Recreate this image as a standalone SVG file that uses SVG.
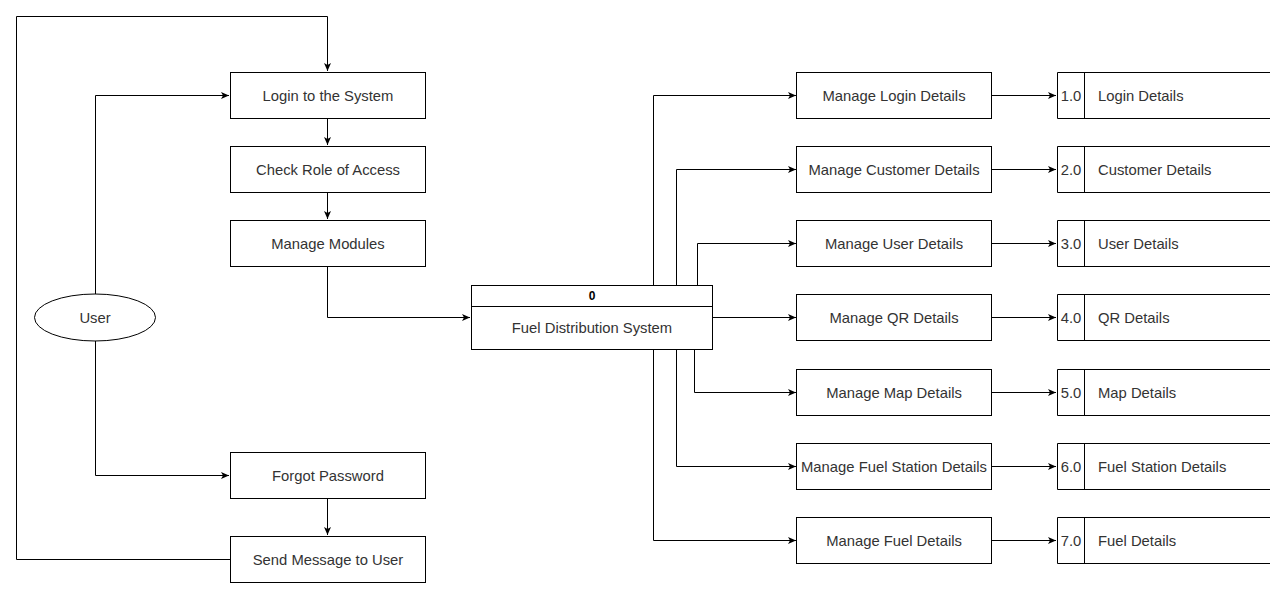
<svg xmlns="http://www.w3.org/2000/svg" width="1280" height="592" viewBox="0 0 1280 592">
<style>
.box{fill:#fff;stroke:#000;stroke-width:1}
.t{font-family:"Liberation Sans",Arial,sans-serif;font-size:14.8px;fill:#333;dominant-baseline:central}
.c{text-anchor:middle}
.b{font-weight:bold;font-size:12px;fill:#000}
.ln{fill:none;stroke:#000;stroke-width:1}
.ds{fill:none;stroke:#000;stroke-width:1}
</style>
<defs>
<marker id="arr" markerUnits="userSpaceOnUse" markerWidth="9" markerHeight="8" refX="8" refY="3.5" orient="auto">
<path d="M0,0 L8,3.5 L0,7 L2,3.5 Z" fill="#000"/>
</marker>
</defs>
<rect width="1280" height="592" fill="#fff"/>
<g id="connectors">
<path class="ln" d="M230,559.5 H16.5 V16.5 H327.5 V71" marker-end="url(#arr)"/>
<path class="ln" d="M95.5,294 V95.5 H229" marker-end="url(#arr)"/>
<path class="ln" d="M95.5,341 V475.5 H229" marker-end="url(#arr)"/>
<path class="ln" d="M327.5,118 V145" marker-end="url(#arr)"/>
<path class="ln" d="M327.5,192 V219" marker-end="url(#arr)"/>
<path class="ln" d="M327.5,498 V535" marker-end="url(#arr)"/>
<path class="ln" d="M327.5,266 V317.5 H470" marker-end="url(#arr)"/>
<path class="ln" d="M653.5,285 V95.5 H796" marker-end="url(#arr)"/>
<path class="ln" d="M676.5,285 V169.5 H796" marker-end="url(#arr)"/>
<path class="ln" d="M697.5,285 V243.5 H796" marker-end="url(#arr)"/>
<path class="ln" d="M713,317.5 H796" marker-end="url(#arr)"/>
<path class="ln" d="M694.5,350 V392.5 H796" marker-end="url(#arr)"/>
<path class="ln" d="M676.5,350 V466.5 H796" marker-end="url(#arr)"/>
<path class="ln" d="M653.5,350 V540.5 H796" marker-end="url(#arr)"/>
<path class="ln" d="M991,95.5 H1056" marker-end="url(#arr)"/>
<path class="ln" d="M991,169.5 H1056" marker-end="url(#arr)"/>
<path class="ln" d="M991,243.5 H1056" marker-end="url(#arr)"/>
<path class="ln" d="M991,317.5 H1056" marker-end="url(#arr)"/>
<path class="ln" d="M991,392.5 H1056" marker-end="url(#arr)"/>
<path class="ln" d="M991,466.5 H1056" marker-end="url(#arr)"/>
<path class="ln" d="M991,540.5 H1056" marker-end="url(#arr)"/>
</g>
<g id="user"><ellipse class="box" cx="95" cy="317.5" rx="60.5" ry="23.5"/><text class="t c" x="95" y="318">User</text></g>
<g id="login"><rect class="box" x="230.5" y="72.5" width="195" height="46"/><text class="t c" x="328" y="96">Login to the System</text></g>
<g id="checkrole"><rect class="box" x="230.5" y="146.5" width="195" height="46"/><text class="t c" x="328" y="170">Check Role of Access</text></g>
<g id="modules"><rect class="box" x="230.5" y="220.5" width="195" height="46"/><text class="t c" x="328" y="244">Manage Modules</text></g>
<g id="forgot"><rect class="box" x="230.5" y="452.5" width="195" height="46"/><text class="t c" x="328" y="476">Forgot Password</text></g>
<g id="sendmsg"><rect class="box" x="230.5" y="536.5" width="195" height="46"/><text class="t c" x="328" y="560">Send Message to User</text></g>
<g id="system"><rect class="box" x="471.5" y="285.5" width="241" height="64"/><line class="ln" x1="471.5" y1="306.5" x2="712.5" y2="306.5"/><text class="t c b" x="592" y="296">0</text><text class="t c" x="592" y="328">Fuel Distribution System</text></g>
<g id="p1"><rect class="box" x="796.5" y="72.5" width="195" height="46"/><text class="t c" x="894" y="96">Manage Login Details</text></g>
<g id="p2"><rect class="box" x="796.5" y="146.5" width="195" height="46"/><text class="t c" x="894" y="170">Manage Customer Details</text></g>
<g id="p3"><rect class="box" x="796.5" y="220.5" width="195" height="46"/><text class="t c" x="894" y="244">Manage User Details</text></g>
<g id="p4"><rect class="box" x="796.5" y="294.5" width="195" height="46"/><text class="t c" x="894" y="318">Manage QR Details</text></g>
<g id="p5"><rect class="box" x="796.5" y="369.5" width="195" height="46"/><text class="t c" x="894" y="393">Manage Map Details</text></g>
<g id="p6"><rect class="box" x="796.5" y="443.5" width="195" height="46"/><text class="t c" x="894" y="467">Manage Fuel Station Details</text></g>
<g id="p7"><rect class="box" x="796.5" y="517.5" width="195" height="46"/><text class="t c" x="894" y="541">Manage Fuel Details</text></g>
<g id="d1"><path class="ds" d="M1270,72.5 H1057.5 V118.5 H1270 M1084.5,72.5 V118.5"/><text class="t c" x="1071" y="96">1.0</text><text class="t" x="1098" y="96">Login Details</text></g>
<g id="d2"><path class="ds" d="M1270,146.5 H1057.5 V192.5 H1270 M1084.5,146.5 V192.5"/><text class="t c" x="1071" y="170">2.0</text><text class="t" x="1098" y="170">Customer Details</text></g>
<g id="d3"><path class="ds" d="M1270,220.5 H1057.5 V266.5 H1270 M1084.5,220.5 V266.5"/><text class="t c" x="1071" y="244">3.0</text><text class="t" x="1098" y="244">User Details</text></g>
<g id="d4"><path class="ds" d="M1270,294.5 H1057.5 V340.5 H1270 M1084.5,294.5 V340.5"/><text class="t c" x="1071" y="318">4.0</text><text class="t" x="1098" y="318">QR Details</text></g>
<g id="d5"><path class="ds" d="M1270,369.5 H1057.5 V415.5 H1270 M1084.5,369.5 V415.5"/><text class="t c" x="1071" y="393">5.0</text><text class="t" x="1098" y="393">Map Details</text></g>
<g id="d6"><path class="ds" d="M1270,443.5 H1057.5 V489.5 H1270 M1084.5,443.5 V489.5"/><text class="t c" x="1071" y="467">6.0</text><text class="t" x="1098" y="467">Fuel Station Details</text></g>
<g id="d7"><path class="ds" d="M1270,517.5 H1057.5 V563.5 H1270 M1084.5,517.5 V563.5"/><text class="t c" x="1071" y="541">7.0</text><text class="t" x="1098" y="541">Fuel Details</text></g>
</svg>
